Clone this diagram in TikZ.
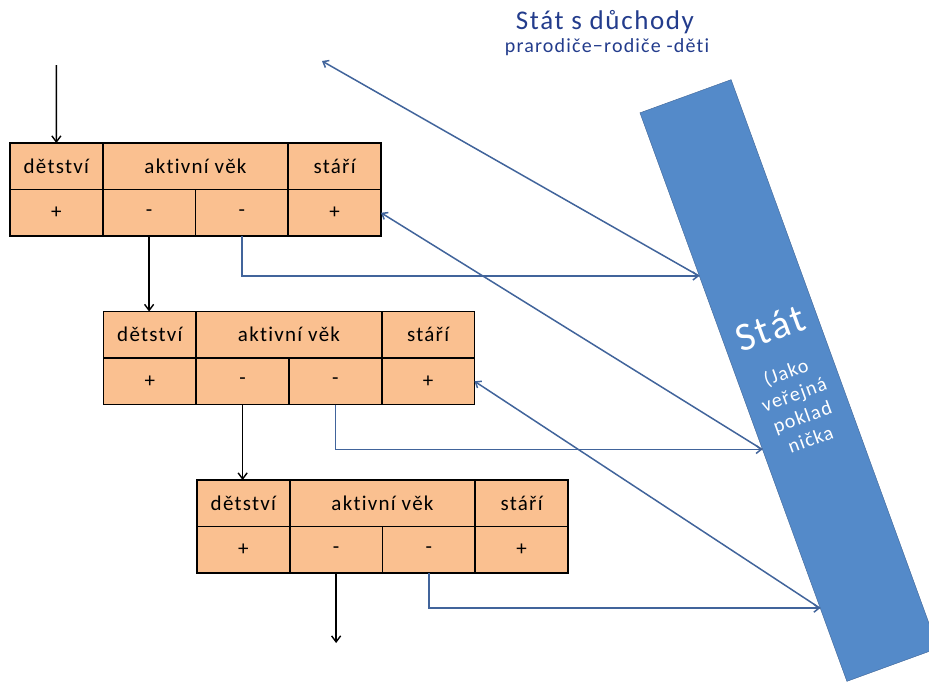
\documentclass[tikz,border=0pt]{standalone}
\usepackage{fontspec}
\setmainfont[LetterSpace=6, Ligatures=NoCommon]{Carlito}
\usetikzlibrary{positioning,calc,arrows.meta}
\definecolor{peach}{RGB}{250,192,144}
\definecolor{barblue}{RGB}{84,138,201}
\definecolor{barline}{RGB}{62,100,150}
\definecolor{linkblue}{RGB}{65,100,155}
\definecolor{navy}{RGB}{35,60,140}
\tikzset{
  cell/.style={draw, fill=peach, line width=1.6pt, minimum width=92.75pt, minimum height=46.5pt,
    inner sep=0pt, outer sep=0pt, font=\fontsize{21}{24}\selectfont},
  wide/.style={cell, minimum width=185.5pt},
  flow/.style={line width=1.4pt, -{Straight Barb[length=6pt,width=9pt]}},
  link/.style={draw=linkblue, line width=1.5pt, -{Straight Barb[length=5pt,width=8pt]}},
  bar/.style={draw=barline, fill=barblue, minimum width=97pt, minimum height=605pt, rotate=20,
    inner sep=0pt, text=white, align=center, font=\fontsize{20}{24}\selectfont}
}
\begin{document}
\begin{tikzpicture}[x=1pt,y=-1pt]
\useasboundingbox (0,0) rectangle (929,681);
\node[bar] (bar) at (789,380.5) {{\fontsize{40}{40}\selectfont Stát}\\[16pt] (Jako\\veřejná\\poklad\\nička};
\node[text=navy, font=\fontsize{27}{30}\selectfont] (title) at (605,22) {Stát s důchody};
\node[text=navy, font=\fontsize{20}{24}\selectfont] (sub) at (607,47.5) {prarodiče−rodiče -děti};
\foreach \k/\x/\y in {1/10/143, 2/103.5/311.5, 3/197/480} {
  \node[cell, anchor=north west] (det\k) at (\x,\y) {dětství};
  \node[wide, right=0pt of det\k] (akt\k) {aktivní věk};
  \node[cell, right=0pt of akt\k] (sta\k) {stáří};
  \node[cell, below=0pt of det\k] (c\k1) {+};
  \node[cell, right=0pt of c\k1] (c\k2) {-};
  \node[cell, right=0pt of c\k2] (c\k3) {-};
  \node[cell, right=0pt of c\k3] (c\k4) {+};
}
\coordinate (start) at (56.4,65);
\coordinate (end) at (336,643);
\coordinate (up) at (322,61);
\draw[flow] (start) -- (det1.north);
\draw[flow] (c12.south) -- (c12.south |- det2.north);
\draw[flow] (c22.south) -- (c22.south |- det3.north);
\draw[flow] (c32.south) -- (c32.south |- end);
\foreach \k/\t in {1/0.287, 2/0.592, 3/0.871}
  \coordinate (h\k) at ($(bar.north west)!\t!(bar.south west)$);
\draw[link] (c13.south) |- (h1);
\draw[link] (c23.south) |- (h2);
\draw[link] (c33.south) |- (h3);
\draw[link] (h1) -- (up);
\draw[link] (h2) -- (c14.east);
\draw[link] (h3) -- (c24.east);
\end{tikzpicture}
\end{document}
